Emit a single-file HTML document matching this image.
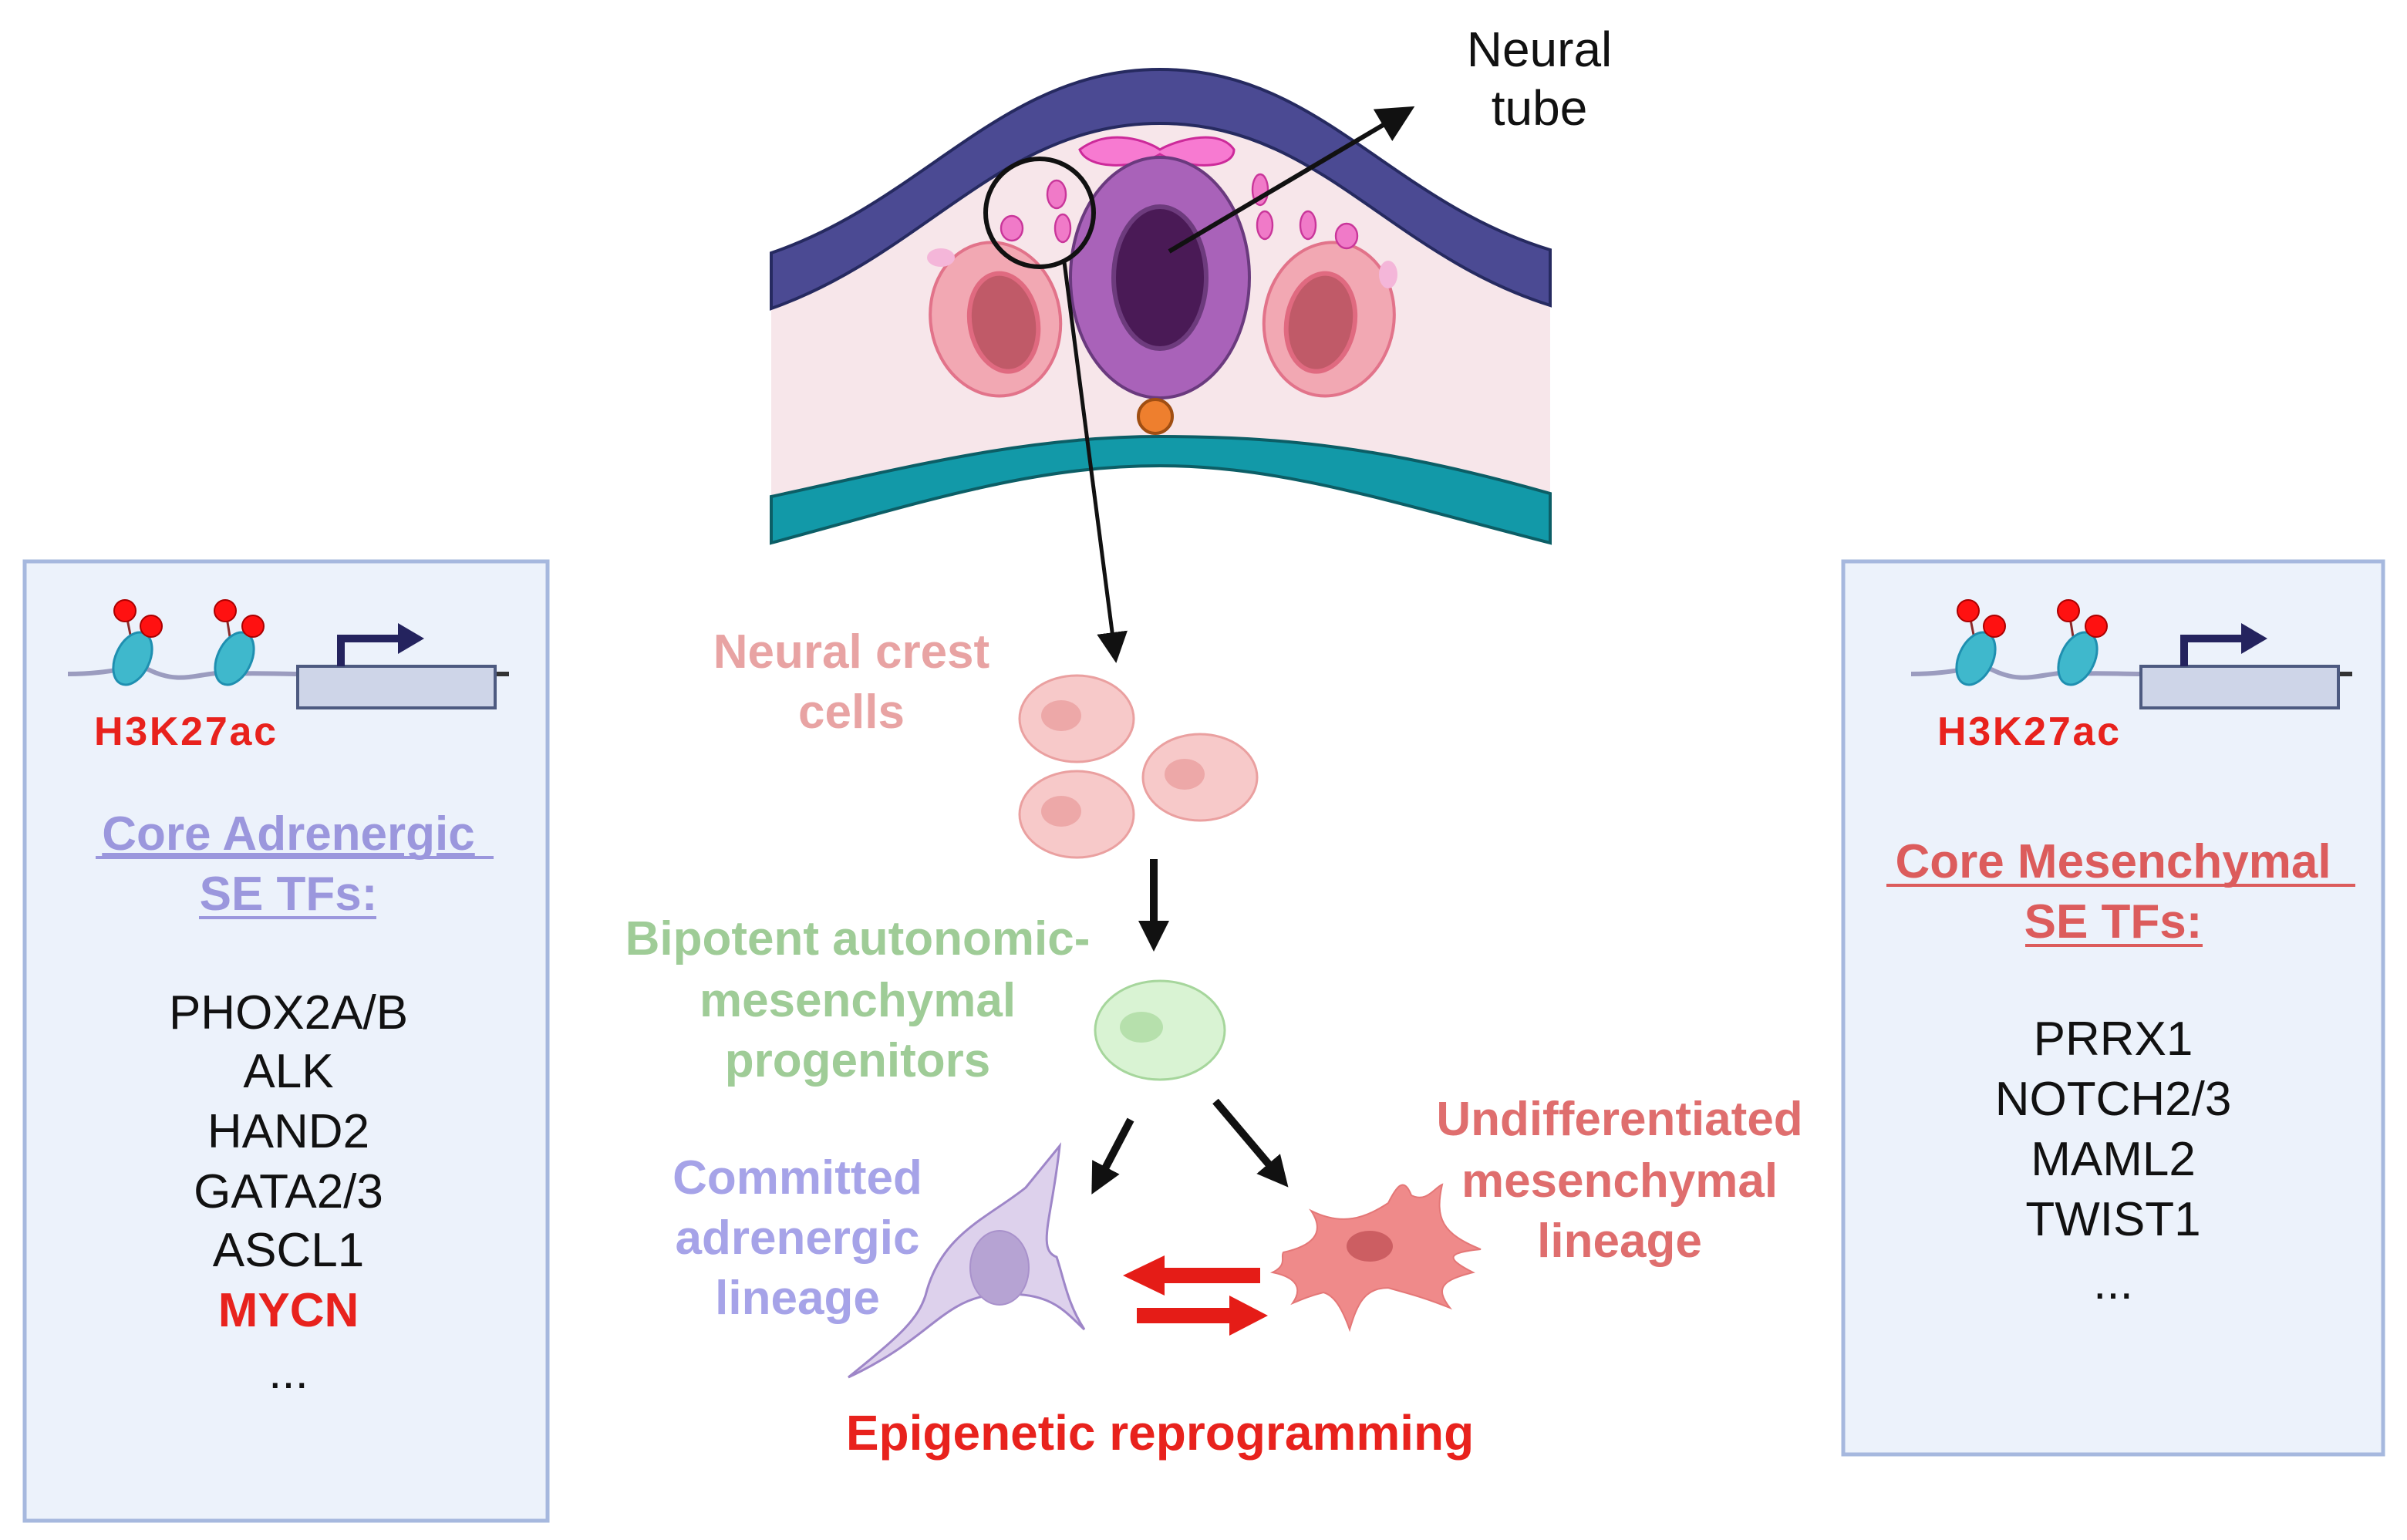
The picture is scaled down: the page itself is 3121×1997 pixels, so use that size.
<!DOCTYPE html>
<html><head><meta charset="utf-8"><style>html,body{margin:0;padding:0;background:#fff}svg{display:block}</style></head>
<body>
<svg width="3121" height="1997" viewBox="0 0 1560.5 998.5" xmlns="http://www.w3.org/2000/svg" font-family="'Liberation Sans', sans-serif">
<defs>
<marker id="ah" markerWidth="8" markerHeight="8" refX="6" refY="4" orient="auto" markerUnits="strokeWidth"><path d="M0,0 L8,4 L0,8 Z" fill="#111"/></marker>
<marker id="ah2" markerWidth="4" markerHeight="4" refX="3" refY="2" orient="auto" markerUnits="strokeWidth"><path d="M0,0 L4,2 L0,4 Z" fill="#111"/></marker>
<g id="icon">
 <path d="M28,73 C60,73 70,66 80,70 C100,80 110,73 130,72" fill="none" stroke="#9b9cbf" stroke-width="3"/>
 <path d="M130,73 C150,72 160,73 178,73" fill="none" stroke="#9b9cbf" stroke-width="3"/>
 <line x1="178" y1="73" x2="314" y2="73" stroke="#333" stroke-width="3"/>
 <line x1="65" y1="30" x2="70" y2="55" stroke="#8b2a2a" stroke-width="1.5"/>
 <line x1="82" y1="40" x2="76" y2="58" stroke="#8b2a2a" stroke-width="1.5"/>
 <line x1="130" y1="30" x2="134" y2="55" stroke="#8b2a2a" stroke-width="1.5"/>
 <line x1="148" y1="42" x2="142" y2="58" stroke="#8b2a2a" stroke-width="1.5"/>
 <ellipse cx="70" cy="63" rx="11" ry="18" transform="rotate(25 70 63)" fill="#3fb8cc" stroke="#1f8fb0" stroke-width="1.5"/>
 <ellipse cx="136" cy="63" rx="11" ry="18" transform="rotate(25 136 63)" fill="#3fb8cc" stroke="#1f8fb0" stroke-width="1.5"/>
 <circle cx="65" cy="32" r="7" fill="#f11" stroke="#a00" stroke-width="1"/>
 <circle cx="82" cy="42" r="7" fill="#f11" stroke="#a00" stroke-width="1"/>
 <circle cx="130" cy="32" r="7" fill="#f11" stroke="#a00" stroke-width="1"/>
 <circle cx="148" cy="42" r="7" fill="#f11" stroke="#a00" stroke-width="1"/>
 <rect x="177" y="68" width="128" height="27" fill="#ced5e8" stroke="#4d5a80" stroke-width="2"/>
 <path d="M205,68 V50 H245" fill="none" stroke="#24235e" stroke-width="5"/>
 <path d="M242,40 L259,50 L242,60 Z" fill="#24235e"/>
</g>
</defs>

<!-- Left box -->
<rect x="16" y="364" width="339" height="622" fill="#ecf2fb" stroke="#a6b8de" stroke-width="2.5"/>
<use href="#icon" x="16" y="364"/>
<text x="120" y="483" font-size="26" font-weight="bold" fill="#e8221d" text-anchor="middle" textLength="118">H3K27ac</text>
<text x="187" y="551" font-size="31" font-weight="bold" fill="#9b97dd" text-anchor="middle" text-decoration="underline">Core Adrenergic </text>
<line x1="62" y1="556" x2="320" y2="556" stroke="#9b97dd" stroke-width="2"/>
<text x="187" y="590" font-size="31" font-weight="bold" fill="#9b97dd" text-anchor="middle">SE TFs:</text>
<line x1="129" y1="595" x2="244" y2="595" stroke="#9b97dd" stroke-width="2"/>
<g font-size="31" fill="#111" text-anchor="middle">
<text x="187" y="667">PHOX2A/B</text>
<text x="187" y="705">ALK</text>
<text x="187" y="744">HAND2</text>
<text x="187" y="783">GATA2/3</text>
<text x="187" y="821">ASCL1</text>
<text x="187" y="860" font-weight="bold" fill="#e8221d">MYCN</text>
<text x="187" y="900">...</text>
</g>

<!-- Right box -->
<rect x="1195" y="364" width="350" height="579" fill="#ecf2fb" stroke="#a6b8de" stroke-width="2.5"/>
<use href="#icon" x="1211" y="364"/>
<text x="1315" y="483" font-size="26" font-weight="bold" fill="#e8221d" text-anchor="middle" textLength="118">H3K27ac</text>
<text x="1370" y="569" font-size="31" font-weight="bold" fill="#dc5c5c" text-anchor="middle">Core Mesenchymal</text>
<line x1="1223" y1="574" x2="1527" y2="574" stroke="#dc5c5c" stroke-width="2"/>
<text x="1370" y="608" font-size="31" font-weight="bold" fill="#dc5c5c" text-anchor="middle">SE TFs:</text>
<line x1="1313" y1="613" x2="1428" y2="613" stroke="#dc5c5c" stroke-width="2"/>
<g font-size="31" fill="#111" text-anchor="middle">
<text x="1370" y="684">PRRX1</text>
<text x="1370" y="723">NOTCH2/3</text>
<text x="1370" y="762">MAML2</text>
<text x="1370" y="801">TWIST1</text>
<text x="1370" y="842">...</text>
</g>

<!-- Neural tube -->
<path d="M500,164 C600,130 650,45 752,45 C855,45 900,130 1005,162 L1005,320 C900,290 830,283 752,283 C670,283 600,300 500,322 Z" fill="#f7e6ea"/>
<path d="M500,164 C600,130 650,45 752,45 C855,45 900,130 1005,162 L1005,198 C900,165 855,80 752,80 C650,80 600,165 500,200 Z" fill="#4b4a93" stroke="#262a60" stroke-width="2"/>
<path d="M500,322 C600,300 670,283 752,283 C830,283 900,290 1005,320 L1005,352 C900,325 830,302 752,302 C670,302 600,325 500,352 Z" fill="#1299a8" stroke="#0c5e66" stroke-width="2"/>
<path d="M700,97 C720,82 745,92 752,97 C760,92 790,82 800,97 C800,110 770,110 752,100 C735,110 705,110 700,97 Z" fill="#f77ad1" stroke="#cc2a9a" stroke-width="1.5"/>
<g transform="rotate(-10 645 205)"><ellipse cx="645" cy="207" rx="42" ry="50" fill="#f2a8b3" stroke="#e2738a" stroke-width="2"/><ellipse cx="650" cy="210" rx="22" ry="32" fill="#c05a68" stroke="#e06a80" stroke-width="3"/></g>
<g transform="rotate(10 862 205)"><ellipse cx="862" cy="207" rx="42" ry="50" fill="#f2a8b3" stroke="#e2738a" stroke-width="2"/><ellipse cx="857" cy="210" rx="22" ry="32" fill="#c05a68" stroke="#e06a80" stroke-width="3"/></g>
<ellipse cx="752" cy="180" rx="58" ry="78" fill="#a962b9" stroke="#6a3a7e" stroke-width="2"/>
<ellipse cx="752" cy="180" rx="30" ry="46" fill="#4a1a56" stroke="#6d3b7d" stroke-width="3"/>
<ellipse cx="749" cy="270" rx="11" ry="11" fill="#ee7f2e" stroke="#a04e12" stroke-width="2"/>
<g fill="#f07ac8" stroke="#c9369a" stroke-width="1.2">
<ellipse cx="685" cy="126" rx="6" ry="9"/><ellipse cx="656" cy="148" rx="7" ry="8"/><ellipse cx="689" cy="148" rx="5" ry="9"/>
<ellipse cx="817" cy="123" rx="5" ry="10"/><ellipse cx="820" cy="146" rx="5" ry="9"/><ellipse cx="848" cy="146" rx="5" ry="9"/><ellipse cx="873" cy="153" rx="7" ry="8"/>
</g>
<ellipse cx="610" cy="167" rx="9" ry="6" fill="#f4b6d9"/><ellipse cx="900" cy="178" rx="6" ry="9" fill="#f4b6d9"/>
<circle cx="674" cy="138" r="35" fill="none" stroke="#111" stroke-width="3"/>
<line x1="758" y1="163" x2="912" y2="72" stroke="#111" stroke-width="3" marker-end="url(#ah)"/>
<line x1="690" y1="170" x2="723" y2="425" stroke="#111" stroke-width="2.5" marker-end="url(#ah)"/>
<text x="998" y="43" font-size="32" fill="#111" text-anchor="middle">Neural</text>
<text x="998" y="81" font-size="32" fill="#111" text-anchor="middle">tube</text>

<!-- Neural crest -->
<g font-size="31" font-weight="bold" text-anchor="middle">
<text x="552" y="433" fill="#e8a3a3">Neural crest</text>
<text x="552" y="472" fill="#e8a3a3">cells</text>
<text x="556" y="619" fill="#9fcc97">Bipotent autonomic-</text>
<text x="556" y="659" fill="#9fcc97">mesenchymal</text>
<text x="556" y="698" fill="#9fcc97">progenitors</text>
<text x="517" y="774" fill="#a6a3e8">Committed</text>
<text x="517" y="813" fill="#a6a3e8">adrenergic</text>
<text x="517" y="852" fill="#a6a3e8">lineage</text>
<text x="1050" y="736" fill="#df6e6e">Undifferentiated</text>
<text x="1050" y="776" fill="#df6e6e">mesenchymal</text>
<text x="1050" y="815" fill="#df6e6e">lineage</text>
<text x="752" y="940" fill="#e8221d" font-size="32">Epigenetic reprogramming</text>
</g>
<g fill="#f7c9c9" stroke="#eaa0a0" stroke-width="1.5">
<ellipse cx="698" cy="466" rx="37" ry="28"/><ellipse cx="698" cy="528" rx="37" ry="28"/><ellipse cx="778" cy="504" rx="37" ry="28"/>
</g>
<g fill="#eda8a8"><ellipse cx="688" cy="464" rx="13" ry="10"/><ellipse cx="688" cy="526" rx="13" ry="10"/><ellipse cx="768" cy="502" rx="13" ry="10"/></g>
<line x1="748" y1="557" x2="748" y2="612" stroke="#111" stroke-width="5" marker-end="url(#ah2)"/>
<ellipse cx="752" cy="668" rx="42" ry="32" fill="#d9f3d3" stroke="#a6d69c" stroke-width="1.5"/>
<ellipse cx="740" cy="666" rx="14" ry="10" fill="#b6e0ac"/>
<line x1="733" y1="726" x2="710" y2="770" stroke="#111" stroke-width="5" marker-end="url(#ah2)"/>
<line x1="788" y1="714" x2="832" y2="766" stroke="#111" stroke-width="5" marker-end="url(#ah2)"/>

<!-- neuron -->
<path d="M687,743 C682,790 672,810 685,815 C690,830 692,845 703,862 C690,850 680,835 640,840 C610,845 600,870 550,893 C585,865 595,855 600,840 C610,800 640,790 665,770 Z" fill="#ddd1ec" stroke="#9e86c8" stroke-width="1.5"/>
<ellipse cx="648" cy="822" rx="19" ry="24" fill="#b6a3d3" stroke="#a891cb" stroke-width="1"/>
<!-- mesenchymal star cell -->
<path d="M832,812 C850,808 860,800 850,785 C870,795 885,790 900,780 C905,770 910,762 915,775 C925,780 930,770 935,768 C930,790 935,800 960,810 C940,812 935,815 955,825 C935,830 930,835 940,848 C920,840 910,838 900,835 C885,835 880,845 875,862 C870,848 865,840 858,838 C850,840 845,842 838,845 C845,835 840,828 825,825 C835,820 830,815 832,812 Z" fill="#ef8a8a" stroke="#e47777" stroke-width="1"/>
<ellipse cx="888" cy="808" rx="15" ry="10" fill="#cc5e62"/>
<!-- red arrows -->
<path d="M817,822 L755,822 L755,814 L728,827 L755,840 L755,832 L817,832 Z" fill="#e51c17"/>
<path d="M737,848 L797,848 L797,840 L822,853 L797,866 L797,858 L737,858 Z" fill="#e51c17"/>
</svg>
</body></html>
